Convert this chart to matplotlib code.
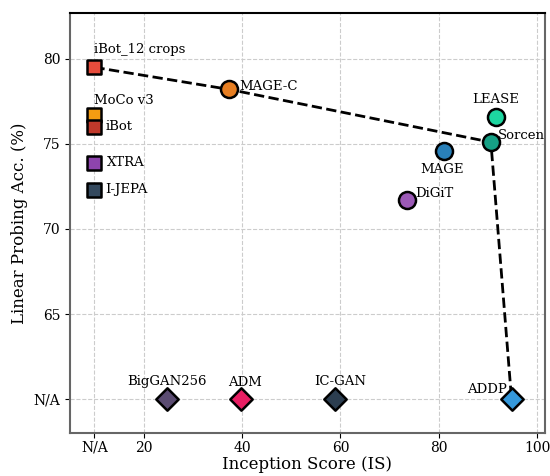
import matplotlib
matplotlib.use("Agg")
import matplotlib.pyplot as plt

plt.rcParams['font.family'] = 'DejaVu Serif'

NA_X = 10   # where "N/A" sits on the IS axis
NA_Y = 60   # where "N/A" sits on the accuracy axis

# models without an inception score (squares)
sq_names = ['iBot_12 crops', 'MoCo v3', 'iBot', 'XTRA', 'I-JEPA']
sq_acc = [79.5, 76.7, 76.0, 73.9, 72.3]
sq_colors = ['#e74c3c', '#f39c12', '#c0392b', '#8e44ad', '#34495e']

# models with both numbers (circles)
ci_names = ['MAGE-C', 'LEASE', 'Sorcen', 'MAGE', 'DiGiT']
ci_is = [37.4, 91.6, 90.6, 81.0, 73.5]
ci_acc = [78.2, 76.6, 75.1, 74.6, 71.7]
ci_colors = ['#e67e22', '#1dd6a0', '#16a085', '#2980b9', '#9b59b6']

# generative models without linear probing (diamonds)
di_names = ['BigGAN256', 'ADM', 'IC-GAN', 'ADDP']
di_is = [24.7, 39.7, 58.9, 94.8]
di_colors = ['#5b4c72', '#e91e63', '#2c3e50', '#3498db']

# pareto front
front_is = [NA_X, 37.4, 90.6, 94.8]
front_acc = [79.5, 78.2, 75.1, NA_Y]

fig, ax = plt.subplots(figsize=(5.5, 4.76), dpi=100)

ax.plot(front_is, front_acc, '--', color='black', lw=2, zorder=2)

for n, a, c in zip(sq_names, sq_acc, sq_colors):
    ax.scatter(NA_X, a, s=110, marker='s', color=c, edgecolor='black', linewidth=1.8, zorder=3)
for n, x, a, c in zip(ci_names, ci_is, ci_acc, ci_colors):
    ax.scatter(x, a, s=150, marker='o', color=c, edgecolor='black', linewidth=1.8, zorder=3)
for n, x, c in zip(di_names, di_is, di_colors):
    ax.scatter(x, NA_Y, s=130, marker='D', color=c, edgecolor='black', linewidth=1.8, zorder=3)

# label placement (offset in points, alignment)
offsets = {
    'iBot_12 crops': ((0, 8), 'left', 'bottom'),
    'MoCo v3': ((0, 6), 'left', 'bottom'),
    'iBot': ((8, 0), 'left', 'center'),
    'XTRA': ((9, 0), 'left', 'center'),
    'I-JEPA': ((8, 0), 'left', 'center'),
    'MAGE-C': ((7, 2), 'left', 'center'),
    'LEASE': ((0, 8), 'center', 'bottom'),
    'Sorcen': ((5, 5), 'left', 'center'),
    'MAGE': ((-1, -9), 'center', 'top'),
    'DiGiT': ((6, 5), 'left', 'center'),
    'BigGAN256': ((0, 8), 'center', 'bottom'),
    'ADM': ((3, 7), 'center', 'bottom'),
    'IC-GAN': ((4, 8), 'center', 'bottom'),
    'ADDP': ((-3, 2), 'right', 'bottom'),
}

pts = [(n, NA_X, a) for n, a in zip(sq_names, sq_acc)]
pts += [(n, x, a) for n, x, a in zip(ci_names, ci_is, ci_acc)]
pts += [(n, x, NA_Y) for n, x in zip(di_names, di_is)]
for n, x, y in pts:
    off, ha, va = offsets[n]
    ax.annotate(n, (x, y), xytext=off, textcoords='offset points',
                ha=ha, va=va, fontsize=9.5, zorder=4)

ax.set_xlim(5, 101.5)
ax.set_ylim(58, 82.7)
ax.set_xticks([NA_X, 20, 40, 60, 80, 100])
ax.set_xticklabels(['N/A', '20', '40', '60', '80', '100'], fontsize=10)
ax.set_yticks([NA_Y, 65, 70, 75, 80])
ax.set_yticklabels(['N/A', '65', '70', '75', '80'], fontsize=10)
ax.tick_params(axis='x', pad=2)
ax.set_xlabel('Inception Score (IS)', fontsize=12, labelpad=1)
ax.set_ylabel('Linear Probing Acc. (%)', fontsize=12)
ax.grid(True, linestyle='--', color='#cccccc', linewidth=0.8)
ax.set_axisbelow(True)

for side in ['left', 'bottom', 'right']:
    ax.spines[side].set_color('#666666')
    ax.spines[side].set_linewidth(1.5)
ax.spines['top'].set_color('black')
ax.spines['top'].set_linewidth(1.5)

fig.subplots_adjust(left=0.127, right=0.99, top=0.973, bottom=0.09)
plt.savefig('out.png')
